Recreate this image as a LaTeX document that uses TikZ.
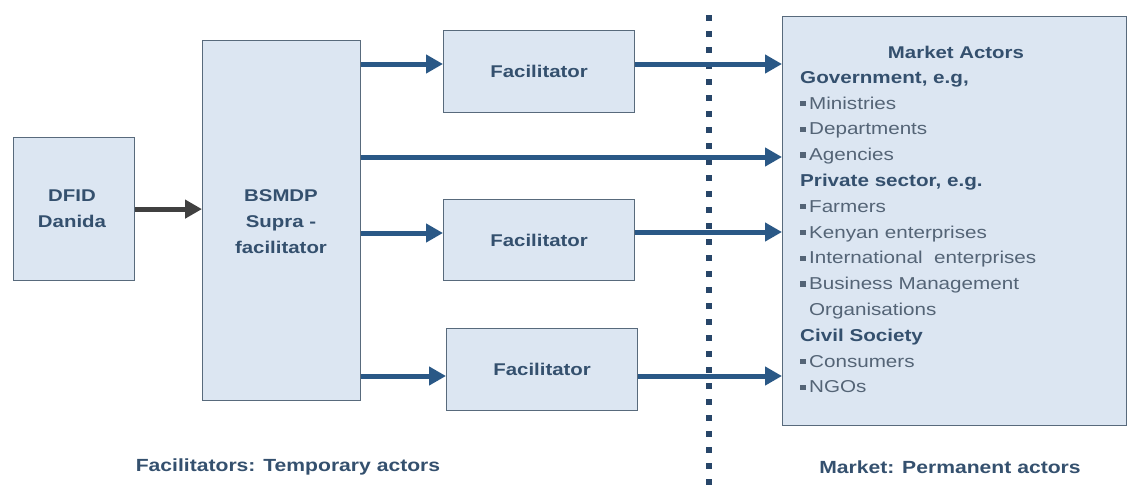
\documentclass[tikz,border=0pt]{standalone}
\usepackage{fontspec}
\setmainfont[FakeStretch=1.2]{Liberation Sans}
\usetikzlibrary{arrows.meta}
\definecolor{boxfill}{RGB}{220,230,242}
\definecolor{boxline}{RGB}{88,106,124}
\definecolor{arrblue}{RGB}{42,88,134}
\definecolor{arrgray}{RGB}{64,64,64}
\definecolor{headtxt}{RGB}{52,80,110}
\definecolor{bultxt}{RGB}{84,100,118}
\definecolor{dotcol}{RGB}{40,70,105}
\tikzset{
  box/.style={draw=boxline, line width=1.2pt, fill=boxfill, inner sep=0pt, anchor=north west},
  boxtxt/.style={font=\fontsize{17}{26}\selectfont\bfseries, text=headtxt, align=center},
  arr/.style={draw=arrblue, line width=5pt, -{Triangle[length=17pt,width=18pt]}},
  arrg/.style={draw=arrgray, line width=5pt, -{Triangle[length=17pt,width=18pt]}},
  lbl/.style={font=\fontsize{17.6}{20}\selectfont\bfseries, text=headtxt},
}
\newcommand{\bul}{{\color{bultxt}\rule[0.16em]{0.32em}{0.32em}}\hspace{0.2em}}
\begin{document}
\begin{tikzpicture}[x=1pt,y=-1pt]
\useasboundingbox (0,0) rectangle (1128,485);
% boxes
\node[box, minimum width=121pt, minimum height=143pt] (dfid) at (13,137) {};
\node[boxtxt] (dfidt) at (72,209) {DFID\\Danida};
\node[box, minimum width=158pt, minimum height=360pt] (bsm) at (202,40) {};
\node[boxtxt] (bsmt) at (281,222) {BSMDP\\Supra -\\facilitator};
\node[box, minimum width=191pt, minimum height=82pt] (f1) at (443,30) {};
\node[boxtxt] (f1t) at (f1.center) {Facilitator};
\node[box, minimum width=191pt, minimum height=81pt] (f2) at (443,199) {};
\node[boxtxt] (f2t) at (f2.center) {Facilitator};
\node[box, minimum width=191pt, minimum height=82pt] (f3) at (446,328) {};
\node[boxtxt] (f3t) at (f3.center) {Facilitator};
\node[box, minimum width=344pt, minimum height=409pt] (mkt) at (782,16) {};
% market text
\node[boxtxt] (mkth) at (956,52) {Market Actors};
\node[anchor=north west, inner sep=0pt, align=left, text=bultxt,
      font=\fontsize{17.2}{25.8}\selectfont] (mktl) at (800,71)
{{\bfseries\color{headtxt}Government, e.g,}\\
\bul Ministries\\
\bul Departments\\
\bul Agencies\\
{\bfseries\color{headtxt}Private sector, e.g.}\\
\bul Farmers\\
\bul Kenyan enterprises\\
\bul International\ \ enterprises\\
\bul Business Management\\
\hphantom{\bul}Organisations\\
{\bfseries\color{headtxt}Civil Society}\\
\bul Consumers\\
\bul NGOs};
% dotted divider
\coordinate (dtop) at (709,15);
\coordinate (dbot) at (709,485);
\draw[dotcol, line width=5.5pt, dash pattern=on 6pt off 10pt] (dtop) -- (dbot);
% arrows
\draw[arrg] (dfid.east) -- (dfid.east -| bsm.west);
\draw[arr] (bsm.east |- 0,64) -- (f1.west |- 0,64);
\draw[arr] (bsm.east |- 0,157) -- (mkt.west |- 0,157);
\draw[arr] (bsm.east |- 0,233) -- (f2.west |- 0,233);
\draw[arr] (bsm.east |- 0,376) -- (f3.west |- 0,376);
\draw[arr] (f1.east |- 0,64) -- (mkt.west |- 0,64);
\draw[arr] (f2.east |- 0,232) -- (mkt.west |- 0,232);
\draw[arr] (f3.east |- 0,376) -- (mkt.west |- 0,376);
% bottom labels
\node[lbl] (tmp) at (288,467) {Facilitators: Temporary actors};
\node[lbl] (perm) at (950,467) {Market: Permanent actors};
\end{tikzpicture}
\end{document}
